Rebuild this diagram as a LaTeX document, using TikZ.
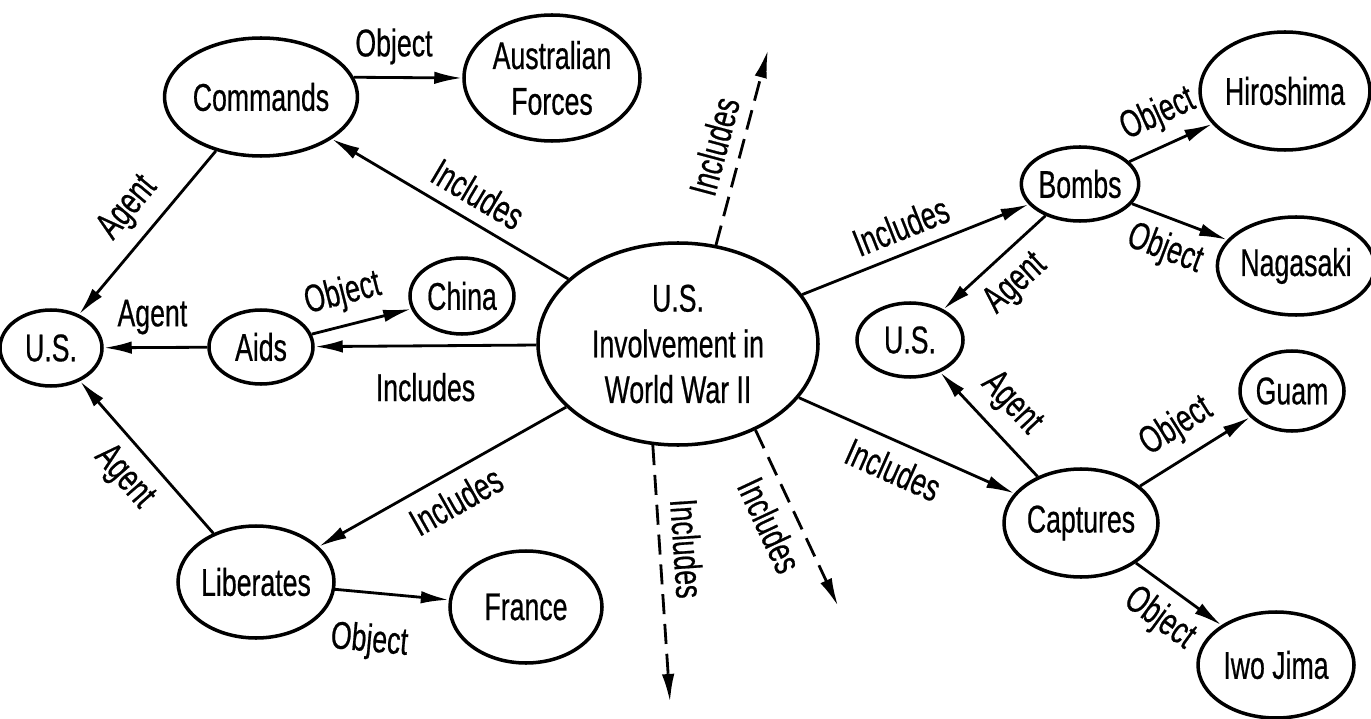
\documentclass[tikz,border=0pt]{standalone}
\usepackage{fontspec}
\setmainfont[FakeStretch=0.69,FakeBold=0.5]{Liberation Sans}
\usetikzlibrary{shapes.geometric,arrows.meta}

\begin{document}
\begin{tikzpicture}[x=1cm,y=-1cm,
		font=\fontsize{11}{13}\selectfont,
		concept/.style={draw,ellipse,line width=1pt,inner sep=0pt,align=center},
		rel/.style={line width=0.8pt,-{Latex[length=2.8mm,width=1.25mm]}},
		maybe/.style={rel,dash pattern=on 5.7pt off 2.8pt}]
	\useasboundingbox(0,0)rectangle(13.71,7.19);
	% left group
	\node[concept,minimum width=1.62cm,minimum height=1.18cm](cmd)at(2.61,0.97){Commands};
	\node[concept,minimum width=1.76cm,minimum height=1.26cm](aus)at(5.52,0.78){Australian\\Forces};
	\node[concept,minimum width=1.02cm,minimum height=0.76cm](usl)at(0.51,3.48){U.S.};
	\node[concept,minimum width=1.04cm,minimum height=0.74cm](aids)at(2.61,3.47){Aids};
	\node[concept,minimum width=1.04cm,minimum height=0.76cm](china)at(4.62,2.96){China};
	\node[concept,minimum width=1.56cm,minimum height=1.12cm](lib)at(2.56,5.82){Liberates};
	\node[concept,minimum width=1.52cm,minimum height=1.12cm](fra)at(5.26,6.07){France};
	% middle
	\node[concept,minimum width=2.80cm,minimum height=2.02cm](ww)at(6.78,3.44){U.S.\\Involvement in\\World War II};
	% right group
	\node[concept,minimum width=1.04cm,minimum height=0.74cm](bomb)at(10.80,1.84){Bombs};
	\node[concept,minimum width=1.64cm,minimum height=1.18cm](hiro)at(12.85,0.91){Hiroshima};
	\node[concept,minimum width=1.40cm,minimum height=0.98cm](naga)at(12.96,2.66){Nagasaki};
	\node[concept,minimum width=1.06cm,minimum height=0.74cm](usr)at(9.10,3.40){U.S.};
	\node[concept,minimum width=1.04cm,minimum height=0.80cm](guam)at(12.92,3.91){Guam};
	\node[concept,minimum width=1.54cm,minimum height=1.08cm](capt)at(10.81,5.23){Captures};
	\node[concept,minimum width=1.56cm,minimum height=1.06cm](iwo)at(12.76,6.65){Iwo Jima};
	% loose ends of the dashed links
	\coordinate(up)at(7.68,0.50);
	\coordinate(down)at(6.70,7.02);
	\coordinate(downr)at(8.38,6.06);

	\draw[rel](ww)--(cmd)node[pos=0.44,sloped,above]{Includes};
	\draw[rel](cmd.12)--(aus.west)node[pos=0.37,above]{Object};
	\draw[rel](cmd)--(usl)node[pos=0.47,sloped,above]{Agent};
	\draw[rel](aids)--(usl)node[pos=0.53,above]{Agent};
	\draw[rel](aids)--(china)node[pos=0.39,sloped,above]{Object};
	\draw[rel](ww)--(aids)node[midway,below=4pt]{Includes};
	\draw[rel](lib)--(usl)node[pos=0.5,sloped,below]{Agent};
	\draw[rel](ww)--(lib)node[pos=0.5,sloped,below]{Includes};
	\draw[rel](lib)--(fra)node[pos=0.34,sloped,below=5pt]{Object};
	\draw[rel](ww)--(bomb)node[pos=0.48,sloped,above]{Includes};
	\draw[rel](bomb)--(hiro)node[pos=0.5,sloped,above]{Object};
	\draw[rel](bomb)--(naga)node[pos=0.46,sloped,below]{Object};
	\draw[rel](bomb)--(usr)node[pos=0.49,sloped,below]{Agent};
	\draw[rel](capt)--(usr)node[pos=0.5,sloped,above]{Agent};
	\draw[rel](ww)--(capt)node[pos=0.49,sloped,below]{Includes};
	\draw[rel](capt)--(guam)node[pos=0.48,sloped,above]{Object};
	\draw[rel](capt)--(iwo)node[pos=0.49,sloped,below]{Object};
	\draw[maybe](ww.69)--(up)node[pos=0.47,sloped,above]{Includes};
	\draw[maybe](ww.256)--(down)node[pos=0.41,sloped,above]{Includes};
	\draw[maybe](ww.312)--(downr)node[pos=0.475,sloped,below]{Includes};
\end{tikzpicture}
\end{document}
